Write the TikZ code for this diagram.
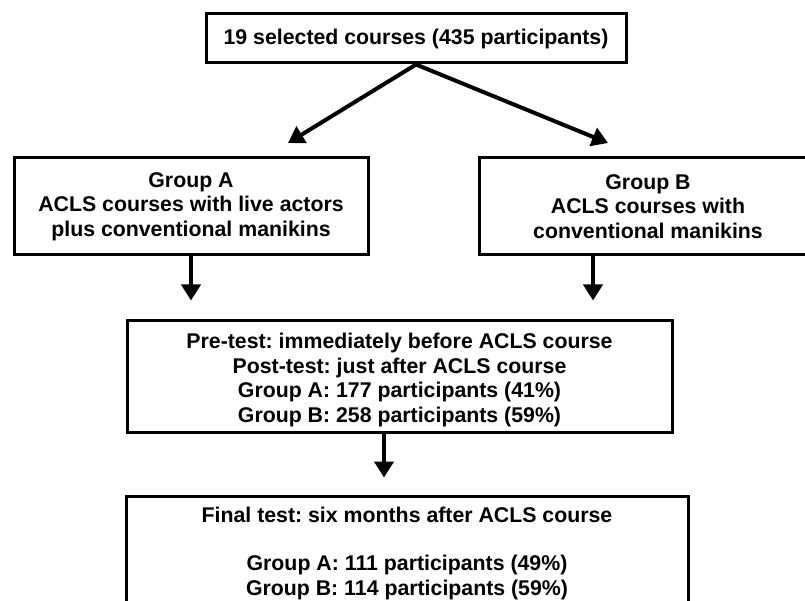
\documentclass[tikz,border=0pt]{standalone}
\usepackage{fontspec}
\setmainfont{Liberation Sans}
\usetikzlibrary{arrows.meta}
\frenchspacing
\begin{document}
\begin{tikzpicture}[x=1pt,y=-1pt,
  box/.style={draw, line width=3pt, align=center, inner sep=0pt,
    font=\bfseries\fontsize{21.3}{24.5}\selectfont},
  arr/.style={line width=4pt, -{Triangle[width=19pt,length=16pt]}}]
\useasboundingbox (0,0) rectangle (805,601);
\clip (0,0) rectangle (805,601);
\node[box, minimum width=420, minimum height=49] (top) at (416,38.5)
  {19 selected courses (435 participants)};
\node[box, minimum width=354, minimum height=97] (grpA) at (191,206.5)
  {Group A\\ACLS courses with live actors\\plus conventional manikins};
\node[box, minimum width=338, minimum height=97] (grpB) at (648,206.5)
  {Group B\\ACLS courses with\\conventional manikins};
\node[box, minimum width=545, minimum height=112] (pre) at (399.5,376)
  {\rule{0pt}{23pt}Pre-test: immediately before ACLS course\\Post-test: just after ACLS course\\Group A: 177 participants (41\%)\\Group B: 258 participants (59\%)};
\node[box, minimum width=562, minimum height=114] (fin) at (407,553)
  {Final test: six months after ACLS course\\[24pt]Group A: 111 participants (49\%)\\Group B: 114 participants (59\%)};
\coordinate (tipA) at (288,143);
\coordinate (tipB) at (608,143);
\coordinate (bs) at ([xshift=-55pt]grpB.south);
\coordinate (ps) at ([xshift=-15.5pt]pre.south);
\draw[arr] (top.south) -- (tipA);
\draw[arr] (top.south) -- (tipB);
\draw[arr, shorten >=18pt] (grpA.south) -- (grpA.south |- pre.north);
\draw[arr, shorten >=18pt] (bs) -- (bs |- pre.north);
\draw[arr, shorten >=17pt] (ps) -- (ps |- fin.north);
\end{tikzpicture}
\end{document}
